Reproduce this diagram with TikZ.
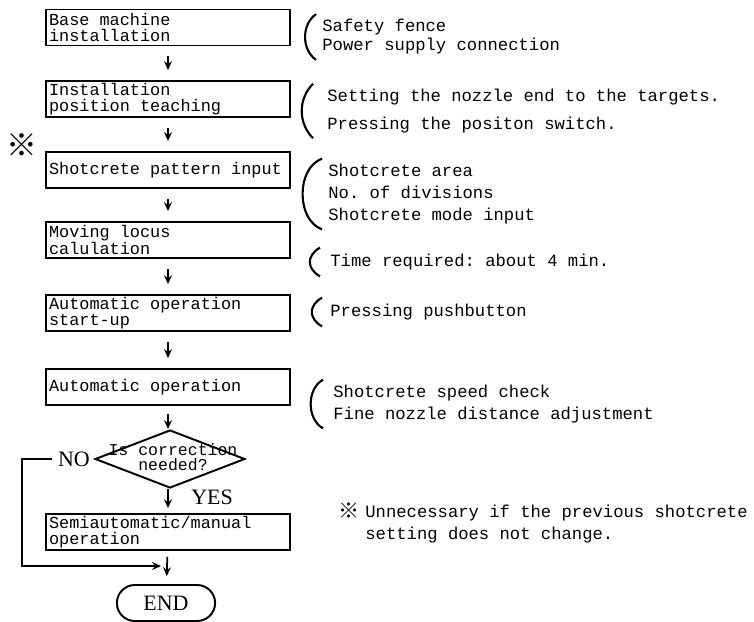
\documentclass[tikz,border=0pt]{standalone}
\usepackage{fontspec}
\setmainfont{Liberation Serif}
\setmonofont{Liberation Mono}
\newfontfamily\cjk{Noto Sans CJK SC}
\usetikzlibrary{arrows.meta,shapes.geometric,shapes.misc}

\newcommand{\flowfont}{\fontsize{9.6}{8.8}\selectfont\ttfamily}
\newcommand{\notefont}{\fontsize{9.8}{10.8}\selectfont\ttfamily}
\newcommand{\natspace}{\spaceskip=0pt\relax\xspaceskip=0pt\relax}

\begin{document}
\begin{tikzpicture}[x=0.02cm, y=0.02cm,
    stage/.style={draw, line width=1.1pt, minimum width=4.88cm, minimum height=0.72cm,
        text width=4.76cm, inner xsep=0.06cm, inner ysep=1pt, align=left, font=\flowfont,
        execute at begin node=\natspace},
    decision/.style={draw, diamond, line width=1.1pt, minimum width=3cm, minimum height=1.16cm, inner sep=0pt},
    terminal/.style={draw, rounded rectangle, line width=1.1pt, minimum width=2.2cm, minimum height=0.72cm,
        font=\fontsize{12.5}{14}\selectfont},
    remark/.style={anchor=west, inner sep=0pt, align=left, font=\notefont},
    answer/.style={font=\fontsize{12.5}{14}\selectfont},
    flow/.style={-{Stealth[length=5pt,width=4.5pt]}, line width=1pt},
    paren/.style={line width=1.2pt}]
    \useasboundingbox (0,0) rectangle (754,-622);

    % main chain
    \node[stage] (base) at (168,-27.5) {Base machine\\installation};
    \node[stage] (teach) at (168,-99) {Installation\\position teaching};
    \node[stage] (pattern) at (168,-170) {Shotcrete pattern input};
    \node[stage] (locus) at (168,-240) {Moving locus\\calulation};
    \node[stage] (startup) at (168,-313) {Automatic operation\\start-up};
    \node[stage] (auto) at (168,-387) {Automatic operation};
    \node[decision] (check) at (170,-459) {};
    \node[font=\fontsize{9.4}{8.6}\selectfont\ttfamily, align=center] (question) at (173,-457) {Is correction\\needed?};
    \node[stage] (semi) at (168,-532) {Semiautomatic/manual\\operation};
    \node[terminal] (finish) at (166,-603) {END};
    \node[answer] (no) at (74,-459) {NO};
    \node[answer] (yes) at (212,-497) {YES};
    \coordinate (merge) at (161,-566);

    \draw[flow, shorten <=0.2cm, shorten >=0.2cm] (base) -- (teach);
    \draw[flow, shorten <=0.2cm, shorten >=0.2cm] (teach) -- (pattern);
    \draw[flow, shorten <=0.2cm, shorten >=0.2cm] (pattern) -- (locus);
    \draw[flow, shorten <=0.2cm, shorten >=0.2cm] (locus) -- (startup);
    \draw[flow, shorten <=0.2cm, shorten >=0.2cm] (startup) -- (auto);
    \draw[flow, shorten <=0.16cm] (auto.south) -- (auto.south |- check.north);
    \draw[flow, shorten >=0.1cm] (auto.south |- check.south) -- (semi.north);
    \draw[flow, shorten <=0.12cm, shorten >=0.16cm] (semi) -- (finish);
    \draw[flow] (no.west) -- ++(-30,0) |- (merge);

    % notes on the right
    \node[remark] (n1) at (322,-37) {Safety fence\\Power supply connection};
    \node[remark] (n2) at (327,-111) {Setting the nozzle end to the targets.\\[5pt]Pressing the positon switch.};
    \node[remark] (n3) at (328,-194) {Shotcrete area\\[1.7pt]No. of divisions\\[1.7pt]Shotcrete mode input};
    \node[remark] (n4) at (330,-262) {Time required: about 4 min.};
    \node[remark] (n5) at (330,-312) {Pressing pushbutton};
    \node[remark] (n6) at (333,-404) {Shotcrete speed check\\[1.7pt]Fine nozzle distance adjustment};

    \draw[paren] ([xshift=-0.12cm,yshift=0.1cm]n1.north west) to[bend right=55] ([xshift=-0.12cm,yshift=-0.1cm]n1.south west);
    \draw[paren] ([xshift=-0.28cm,yshift=0.1cm]n2.north west) to[bend right=45] ([xshift=-0.28cm,yshift=-0.1cm]n2.south west);
    \draw[paren] ([xshift=-0.12cm,yshift=0.1cm]n3.north west) to[bend right=70] ([xshift=-0.12cm,yshift=-0.1cm]n3.south west);
    \draw[paren] ([xshift=-0.2cm,yshift=0.12cm]n4.north west) to[bend right=60, looseness=1.4] ([xshift=-0.2cm,yshift=-0.12cm]n4.south west);
    \draw[paren] ([xshift=-0.16cm,yshift=0.12cm]n5.north west) to[bend right=60, looseness=1.4] ([xshift=-0.16cm,yshift=-0.12cm]n5.south west);
    \draw[paren] ([xshift=-0.2cm,yshift=0.1cm]n6.north west) to[bend right=60] ([xshift=-0.2cm,yshift=-0.1cm]n6.south west);

    % reference marks
    \node[font=\cjk\fontsize{17.6}{18}\selectfont] (mark1) at (22,-145) {※};
    \node[font=\cjk\fontsize{12}{13}\selectfont] (mark2) at (349,-511) {※};
    \node[remark] (n7) at (365,-524) {Unnecessary if the previous shotcrete\\[2.2pt]setting does not change.};
\end{tikzpicture}
\end{document}
